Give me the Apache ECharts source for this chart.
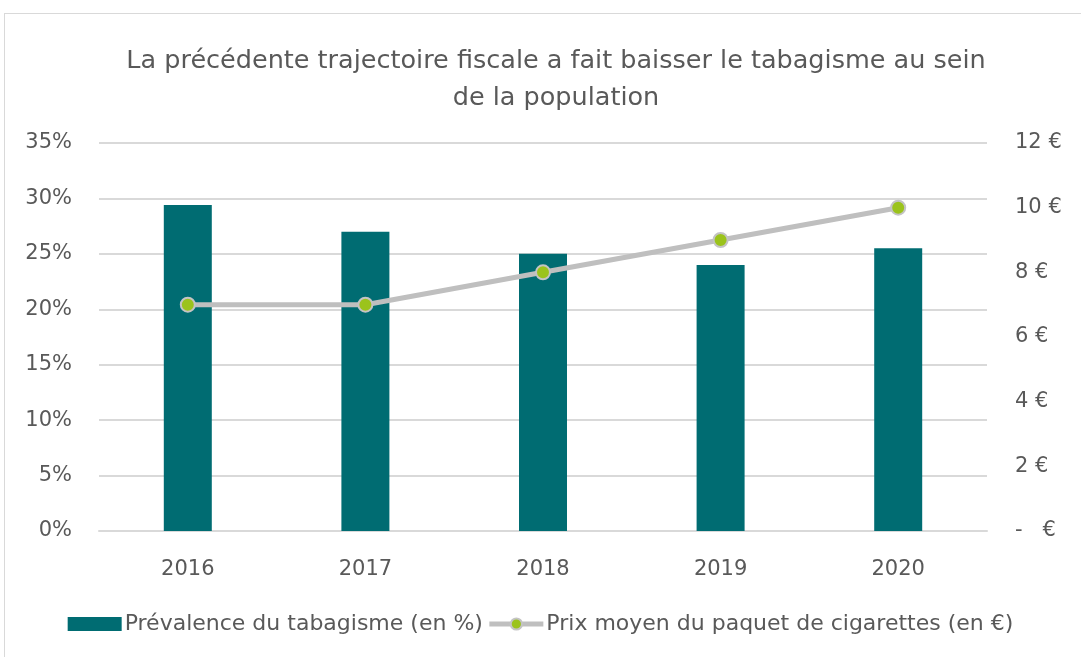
<!DOCTYPE html>
<html>
<head>
<meta charset="utf-8">
<script src="https://cdn.jsdelivr.net/npm/echarts@6/dist/echarts.min.js"></script>
<style>
  html, body { margin: 0; padding: 0; background: #fff; }
  #frame { position: absolute; left: 4px; top: 13px; width: 1090px; height: 660px; border: 1px solid #d9d9d9; box-sizing: border-box; }
  #chart { position: absolute; left: 0; top: 0; width: 1081px; height: 657px; }
</style>
</head>
<body>
<div id="frame"></div>
<div id="chart"></div>
<script>
const years = ['2016', '2017', '2018', '2019', '2020']
const prevalence = [29.4, 27.0, 25.0, 24.0, 25.5]
const prixPaquet = [7, 7, 8, 9, 10]

const fontFamily = '"DejaVu Sans", sans-serif'
const textColor = '#595959'

const chart = echarts.init(document.getElementById('chart'))

const option = {
    animation: false,
    title: {
        text: 'La précédente trajectoire fiscale a fait baisser le tabagisme au sein\nde la population',
        left: 551,
        textAlign: 'center',
        top: 38,
        textStyle: { fontFamily, fontSize: 25.5, fontWeight: 'normal', color: textColor, lineHeight: 37 }
    },
    legend: {
        bottom: 17,
        left: 'center',
        itemWidth: 54,
        itemHeight: 14,
        itemGap: 4,
        textStyle: { fontFamily, fontSize: 22, color: textColor, padding: [0, 0, 0, -2] },
        data: [
            { name: 'Prévalence du tabagisme (en %)', icon: 'rect' },
            { name: 'Prix moyen du paquet de cigarettes (en €)', lineStyle: { width: 5, color: '#bfbfbf' } }
        ]
    },
    grid: { left: 99, right: 94, top: 143, bottom: 126 },
    xAxis: {
        type: 'category',
        data: years,
        axisLine: { lineStyle: { color: '#d9d9d9', width: 2 } },
        axisTick: { show: false },
        axisLabel: { fontFamily, fontSize: 21, color: textColor, margin: 28 }
    },
    yAxis: [
        {
            type: 'value',
            min: 0,
            max: 35,
            interval: 5,
            axisLabel: { fontFamily, fontSize: 21, color: textColor, margin: 27, formatter: v => v + '%' },
            splitLine: { lineStyle: { color: '#d9d9d9', width: 2 } },
            axisLine: { show: false },
            axisTick: { show: false }
        },
        {
            type: 'value',
            min: 0,
            max: 12,
            interval: 2,
            axisLabel: {
                fontFamily, fontSize: 21, color: textColor, margin: 28,
                formatter: v => v === 0 ? '-   €' : v + ' €'
            },
            splitLine: { show: false },
            axisLine: { show: false },
            axisTick: { show: false }
        }
    ],
    series: [
        {
            name: 'Prévalence du tabagisme (en %)',
            type: 'bar',
            data: prevalence,
            barWidth: 48,
            itemStyle: { color: '#006c72' }
        },
        {
            name: 'Prix moyen du paquet de cigarettes (en €)',
            type: 'line',
            yAxisIndex: 1,
            data: prixPaquet,
            symbol: 'circle',
            symbolSize: 14,
            lineStyle: { color: '#bfbfbf', width: 5 },
            itemStyle: { color: '#9bc31c', borderColor: '#c4c4c4', borderWidth: 2 }
        }
    ]
}

chart.setOption(option)
</script>
</body>
</html>
